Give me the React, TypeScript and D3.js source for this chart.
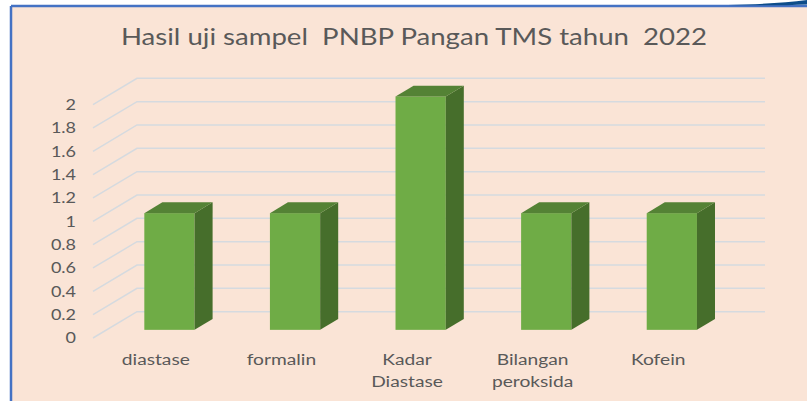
import * as d3 from "d3";

const categories = ["diastase", "formalin", "Kadar Diastase", "Bilangan peroksida", "Kofein"];
const values = [1, 1, 2, 1, 1];
const yTicks = [0, 0.2, 0.4, 0.6, 0.8, 1, 1.2, 1.4, 1.6, 1.8, 2];
const title = "Hasil uji sampel  PNBP Pangan TMS tahun  2022";

const W = 807;
const H = 401;
// depth of the floor / wall (the oblique projection vector)
const DX = 44;
const DY = -26.3;
// where the bar sits in the depth, as fraction of DX/DY
const BAR_FRONT = 0.31;
const BAR_BACK = 0.72;
// the source picture is a bit stretched horizontally, text included
const SX = 1.2;

const font = "Lato, 'Open Sans', sans-serif";
const textColor = "#595959";

export default function App() {
  const x = d3.scaleBand<string>().domain(categories).range([93, 721]);
  const y = d3.scaleLinear().domain([0, 2]).range([338, 104.6]);
  const bw = x.bandwidth() * 0.4;
  const fmt = d3.format("~g");

  const ddx = (BAR_BACK - BAR_FRONT) * DX;
  const ddy = (BAR_BACK - BAR_FRONT) * DY;

  return (
    <svg
      width={W}
      height={H}
      style={{ position: "fixed", left: 0, top: 0, display: "block" }}
    >
      <rect width={W} height={H} fill="#ffffff" />
      <rect x={11} y={6} width={W - 11} height={H - 6} fill="#FAE4D6" />
      <line x1={11} y1={6} x2={W} y2={6} stroke="#4472C4" strokeWidth={2.5} />
      <line x1={11} y1={6} x2={11} y2={H} stroke="#4472C4" strokeWidth={2.5} />
      <path d="M728,5 C760,4 785,3 807,0 L807,4.5 C785,5.5 760,5.5 728,5 Z" fill="#0D4D8A" />

      <text
        transform={`translate(414,45) scale(${SX},1)`}
        textAnchor="middle"
        fontFamily={font}
        fontSize={23}
        fill={textColor}
        style={{ whiteSpace: "pre" }}
      >
        {title}
      </text>

      {/* walls: diagonal left wall lines + back wall gridlines */}
      <g stroke="#D5DADF" strokeWidth={1.5} fill="none">
        {yTicks.map((t) => (
          <path
            key={t}
            d={`M${x.range()[0]},${y(t)} L${x.range()[0] + DX},${y(t) + DY} L${x.range()[1] + DX},${y(t) + DY}`}
          />
        ))}
      </g>

      <g fontFamily={font} fontSize={15} fill={textColor} textAnchor="end">
        {yTicks.map((t) => (
          <text key={t} transform={`translate(76,${y(t)}) scale(${SX},1)`} dy="0.35em">
            {fmt(t)}
          </text>
        ))}
      </g>

      {categories.map((c, i) => {
        const cx = x(c)! + x.bandwidth() / 2;
        const xl = cx - bw / 2 + BAR_FRONT * DX;
        const xr = xl + bw;
        const top = y(values[i]) + BAR_FRONT * DY;
        const bottom = y(0) + BAR_FRONT * DY;
        return (
          <g key={c}>
            <rect x={xl} y={top} width={bw} height={bottom - top} fill="#6FAC46" />
            <polygon
              points={`${xr},${top} ${xr + ddx},${top + ddy} ${xr + ddx},${bottom + ddy} ${xr},${bottom}`}
              fill="#466E2B"
            />
            <polygon
              points={`${xl},${top} ${xl + ddx},${top + ddy} ${xr + ddx},${top + ddy} ${xr},${top}`}
              fill="#548235"
            />
          </g>
        );
      })}

      <g fontFamily={font} fontSize={16} fill={textColor} textAnchor="middle">
        {categories.map((c) => {
          const words = c.split(" ");
          const cx = x(c)! + x.bandwidth() / 2;
          return (
            <text key={c} transform={`translate(${cx},365) scale(${SX},1)`}>
              {words.map((w, j) => (
                <tspan key={j} x={0} dy={j === 0 ? 0 : 22}>
                  {w}
                </tspan>
              ))}
            </text>
          );
        })}
      </g>
    </svg>
  );
}
